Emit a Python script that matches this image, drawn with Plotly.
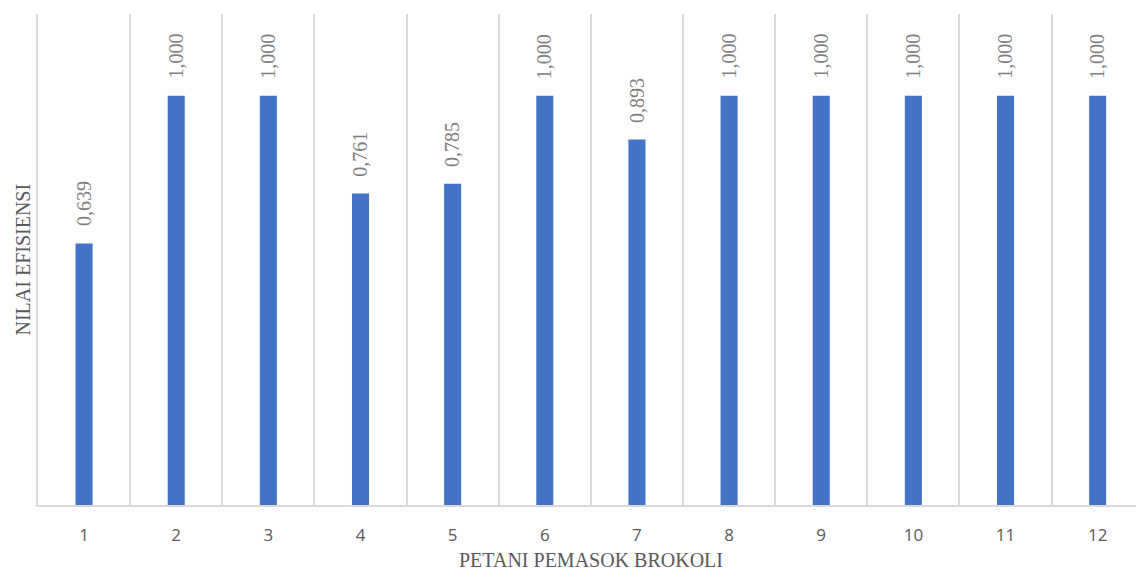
import plotly.graph_objects as go

petani = list(range(1, 13))
tick_labels = [str(i) for i in petani]
nilai = [0.639, 1.000, 1.000, 0.761, 0.785, 1.000, 0.893, 1.000, 1.000, 1.000, 1.000, 1.000]
label_text = ["0,639", "1,000", "1,000", "0,761", "0,785", "1,000", "0,893",
              "1,000", "1,000", "1,000", "1,000", "1,000"]
boundaries = [i + 0.5 for i in range(0, 12)]

serif = "Liberation Serif, Times New Roman, serif"

fig = go.Figure()
fig.add_trace(go.Bar(x=petani, y=nilai, width=0.185,
                     marker=dict(color="#4472C4", line=dict(width=0))))

for x, y, t in zip(petani, nilai, label_text):
    fig.add_annotation(x=x, y=y, xref="x", yref="y", text=t, showarrow=False,
                       textangle=-90, xanchor="center", yanchor="bottom", yshift=15,
                       font=dict(family=serif, size=20, color="#7f7f7f"))

fig.add_annotation(x=0, y=0.5, xref="paper", yref="paper", text="NILAI EFISIENSI",
                   showarrow=False, textangle=-90, xanchor="center", yanchor="middle",
                   xshift=-16, font=dict(family=serif, size=20, color="#595959"))
fig.add_annotation(x=0.5034, y=0, xref="paper", yref="paper", text="PETANI PEMASOK BROKOLI",
                   showarrow=False, xanchor="center", yanchor="middle", yshift=-55,
                   font=dict(family=serif, size=20, color="#595959"))

fig.update_layout(
    width=1136, height=574,
    margin=dict(l=38, r=0, t=14, b=69),
    plot_bgcolor="white", paper_bgcolor="white",
    showlegend=False,
    xaxis=dict(range=[0.5, 12.416], tickvals=petani, ticktext=tick_labels,
               showgrid=False, zeroline=False, ticks="",
               showline=True, linecolor="#d9d9d9", linewidth=2,
               ticklabelstandoff=14,
               tickfont=dict(family="Open Sans", size=17, color="#595959"),
               minor=dict(tickvals=boundaries, showgrid=True, gridcolor="#d9d9d9",
                          gridwidth=1.5, ticks="")),
    yaxis=dict(range=[0, 1.2], showticklabels=False, showgrid=False,
               zeroline=False, showline=True, linecolor="#d9d9d9", linewidth=1.5,
               ticks=""),
)

fig.write_html("out.html")
